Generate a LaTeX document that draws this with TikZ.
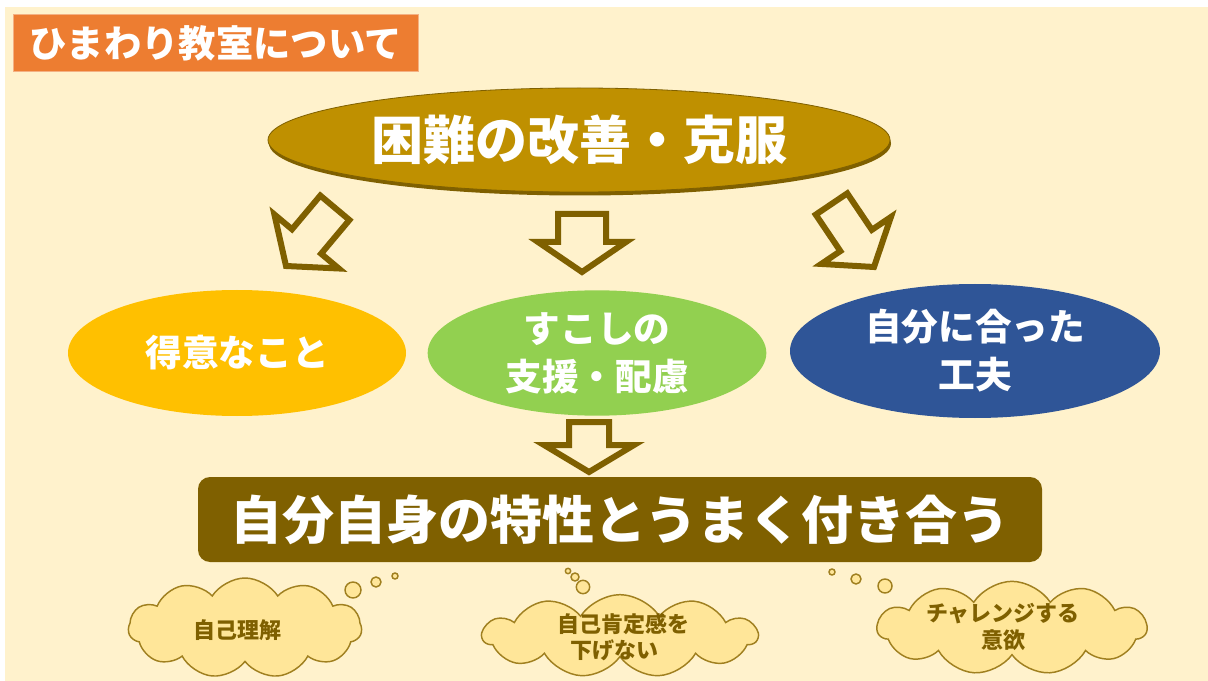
\documentclass[tikz,border=0pt]{standalone}
\usepackage{fontspec}
\setmainfont{Noto Sans CJK JP}
\usetikzlibrary{shapes.geometric,shapes.symbols}
\definecolor{cream}{HTML}{FFF2CC}
\definecolor{orangebox}{HTML}{ED7D31}
\definecolor{orangeedge}{HTML}{F4B183}
\definecolor{gold}{HTML}{BF9000}
\definecolor{darkgold}{HTML}{7F6000}
\definecolor{yel}{HTML}{FFC000}
\definecolor{grn}{HTML}{92D050}
\definecolor{blu}{HTML}{2F5597}
\definecolor{cloudfill}{HTML}{FFE699}
\definecolor{cloudedge}{RGB}{160,128,32}
\tikzset{
  bigtxt/.style={text=white,font=\bfseries\fontsize{39}{46}\selectfont},
  midtxt/.style={text=white,align=center,font=\bfseries\fontsize{27.5}{36}\selectfont},
  oval/.style={ellipse,inner sep=0pt},
  blockarrow/.style={draw=darkgold,fill=cream,line width=4.5pt,line join=miter},
  cloudsty/.style={cloud,cloud puffs=11,cloud puff arc=115,cloud ignores aspect,draw=cloudedge,fill=cloudfill,line width=1.1pt,inner sep=0pt},
  bubble/.style={circle,draw=cloudedge,fill=cloudfill,line width=1.1pt,inner sep=0pt},
  cloudtxt/.style={text=darkgold,align=center,font=\bfseries\fontsize{16.5}{20}\selectfont},
}
\begin{document}
\begin{tikzpicture}[x=0.75pt,y=-0.75pt]
\useasboundingbox (0,0) rectangle (1208,681);
\fill[white] (0,0) rectangle (1208,681);
\fill[cream] (5,7) rectangle (1208,681);

% title
\node[draw=orangeedge,fill=orangebox,line width=0.75pt,minimum width=303.75pt,minimum height=42.75pt,inner sep=0pt,
      text=white,font=\bfseries\fontsize{28}{32}\selectfont] (title) at (215.5,43.5) {ひまわり教室について};

% top ellipse with shadow
\node[oval,fill=darkgold,minimum width=466.5pt,minimum height=78pt] (topshadow) at (580,143.5) {};
\node[oval,fill=gold,draw=darkgold,line width=0.6pt,minimum width=466.5pt,minimum height=78pt,bigtxt] (top) at (579,140) {困難の改善・克服};

% block arrows
\draw[blockarrow,shift={(286,266)},rotate=-40] (0,0) -- (-42,-32) -- (-19,-32) -- (-19,-76) -- (19,-76) -- (19,-32) -- (42,-32) -- cycle;
\draw[blockarrow,shift={(582,272)}] (0,0) -- (-44,-30) -- (-24,-30) -- (-24,-58) -- (24,-58) -- (24,-30) -- (44,-30) -- cycle;
\draw[blockarrow,shift={(874,267)},rotate=34] (0,0) -- (-42,-32) -- (-19,-32) -- (-19,-76) -- (19,-76) -- (19,-32) -- (42,-32) -- cycle;

% three ellipses
\node[oval,fill=yel,minimum width=253.5pt,minimum height=94.5pt,midtxt] (left) at (237,353) {得意なこと};
\node[oval,fill=grn,minimum width=254pt,minimum height=94pt,midtxt] (mid) at (597,353) {すこしの\\支援・配慮};
\node[oval,fill=blu,minimum width=277.5pt,minimum height=100.5pt,midtxt] (right) at (975,351) {自分に合った\\工夫};

% lower arrow
\draw[blockarrow,shift={(589,472)}] (0,0) -- (-45,-27) -- (-20,-27) -- (-20,-50) -- (20,-50) -- (20,-27) -- (45,-27) -- cycle;

% bottom box
\node[fill=darkgold,rounded corners=9pt,minimum width=633pt,minimum height=63.75pt,inner sep=0pt,bigtxt] (goal) at (620,519.5) {自分自身の特性とうまく付き合う};

% clouds
\node[cloudsty,minimum width=175pt,minimum height=75pt] (c1) at (245,628) {};
\node[bubble,minimum size=12pt] (b1a) at (353,590) {};
\node[bubble,minimum size=7.5pt] (b1b) at (376,582) {};
\node[bubble,minimum size=4.5pt] (b1c) at (395,576) {};
\node[cloudtxt] (t1) at (237,630) {自己理解};

\node[cloudsty,minimum width=206pt,minimum height=62pt] (c2) at (620,636) {};
\node[bubble,minimum size=10pt] (b2a) at (583,587) {};
\node[bubble,minimum size=6pt] (b2b) at (575,577) {};
\node[bubble,minimum size=4pt] (b2c) at (568,571) {};
\node[cloudtxt,align=left] (t2) at (623,637) {自己肯定感を\\\hspace*{0.6em}下げない};

\node[cloudsty,minimum width=202pt,minimum height=70pt] (c3) at (1012,628) {};
\node[bubble,minimum size=10.5pt] (b3a) at (885,586) {};
\node[bubble,minimum size=7.5pt] (b3b) at (856,579) {};
\node[bubble,minimum size=4.5pt] (b3c) at (832,572) {};
\node[cloudtxt] (t3) at (1003,627) {チャレンジする\\意欲};
\end{tikzpicture}
\end{document}
